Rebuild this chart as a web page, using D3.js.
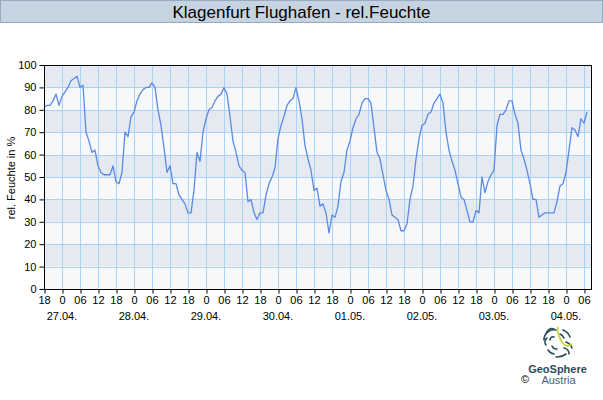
<!DOCTYPE html>
<html><head><meta charset="utf-8">
<script src="https://cdn.jsdelivr.net/npm/d3@7/dist/d3.min.js"></script>
<style>
html,body{margin:0;padding:0;background:#fff;}
svg{display:block;font-family:"Liberation Sans",Arial,sans-serif;}
</style></head>
<body>
<svg id="c" width="603" height="400"></svg>
<script>
const title = "Klagenfurt Flughafen - rel.Feuchte";
const yLabel = "rel. Feuchte in %";
const startTime = "2025-04-26T18:00";   // first hourly reading
const humidity = [
 81,82,82,84,87,82,86,88,90,93,94,95,90,91,70,66,61,62,55,52,
 51,51,51,55,48,47,52,70,68,77,79,84,87,89,90,90,92,90,80,73,
 63,52,55,47,47,42,40,38,34,34,44,61,57,70,76,80,81,84,86,87,
 90,87,77,66,61,55,53,52,39,40,34,31,34,34,42,47,50,54,67,73,
 77,82,84,85,90,84,76,64,58,53,44,45,37,38,34,25,33,32,37,48,
 52,62,66,72,76,78,83,85,85,83,72,61,58,51,44,40,33,32,31,26,
 26,29,40,46,58,67,73,74,78,79,83,85,87,83,70,62,57,53,47,41,
 40,35,30,30,35,34,50,43,48,51,53,73,78,78,80,84,84,78,74,62,
 58,53,47,40,40,32,33,34,34,34,34,39,46,47,52,62,72,71,68,76,
 74,79];
const hourTicks = ["18","0","06","12"];
const dateLabels = ["27.04.","28.04.","29.04.","30.04.","01.05.","02.05.","03.05.","04.05."];
const yTicks = [0,10,20,30,40,50,60,70,80,90,100];

const svg = d3.select("#c");
const L = 44, R = 592, T = 65, B = 289;
const hoursSpan = 182.67;
const t0 = new Date(startTime);
const x = d3.scaleLinear().domain([0, hoursSpan]).range([L, R]);
const y = d3.scaleLinear().domain([0, 100]).range([B, T]);

// title bar
svg.append("rect").attr("x",0.5).attr("y",0.5).attr("width",602).attr("height",22)
  .attr("fill","#c6d3e0").attr("stroke","#95abc2");
svg.append("text").attr("x",301.5).attr("y",18).attr("text-anchor","middle")
  .attr("font-size",17).attr("fill","#000").text(title);

// bands
for (let i = 0; i < 10; i++) {
  svg.append("rect").attr("x",L).attr("width",R-L)
    .attr("y",y(i*10+10)).attr("height",y(i*10)-y(i*10+10))
    .attr("fill", i%2===1 ? "#e5eaf2" : "#f7f8fa");
}
// grid
const g = svg.append("g");
const vt = d3.range(0, 181, 6);
g.selectAll(".vg").data(vt.slice(1)).join("line")
  .attr("x1",d=>Math.round(x(d))+0.5).attr("x2",d=>Math.round(x(d))+0.5)
  .attr("y1",T).attr("y2",B).attr("stroke","#aad2f2").attr("stroke-width",1);
g.selectAll(".hg").data(yTicks.slice(1,-1)).join("line")
  .attr("x1",L).attr("x2",R)
  .attr("y1",d=>Math.round(y(d))+0.5).attr("y2",d=>Math.round(y(d))+0.5)
  .attr("stroke","#aad2f2").attr("stroke-width",1);

// line
const line = d3.line().x((d,i)=>x(i)).y(d=>y(d));
svg.append("path").datum(humidity).attr("d",line).attr("fill","none")
  .attr("stroke","#5a8ae6").attr("stroke-width",1.3).attr("stroke-linejoin","round");

// frame
svg.append("rect").attr("x",L+0.5).attr("y",T+0.5).attr("width",R-L-1).attr("height",B-T)
  .attr("fill","none").attr("stroke","#000");

// y axis
const ya = svg.append("g").attr("transform",`translate(${L+0.5},0)`)
  .call(d3.axisLeft(y).tickValues(yTicks).tickSize(5).tickPadding(3).tickFormat(d3.format("d")));
ya.select(".domain").remove();
ya.selectAll("text").attr("font-size",11).attr("font-family","Liberation Sans, Arial").attr("fill","#000");
ya.selectAll("line").attr("stroke","#000");

// x axis
const xa = svg.append("g").attr("transform",`translate(0,${B+0.5})`)
  .call(d3.axisBottom(x).tickValues(vt).tickSize(4).tickPadding(3)
    .tickFormat((d,i)=>hourTicks[i%4]));
xa.select(".domain").remove();
xa.selectAll("line").attr("stroke","#000").attr("transform","translate(0.5,0)");
xa.selectAll("text").attr("font-size",11).attr("font-family","Liberation Sans, Arial").attr("fill","#000");

svg.append("g").selectAll("text").data(dateLabels).join("text")
  .attr("x",(d,i)=>x(6+24*i)).attr("y",320).attr("text-anchor","middle")
  .attr("font-size",11).text(d=>d);

// y label
svg.append("text").attr("transform","translate(15,178) rotate(-90)")
  .attr("text-anchor","middle").attr("font-size",11).text(yLabel);

// logo
const lg = svg.append("g").attr("fill","none").attr("stroke","#2e4b5b").attr("stroke-width",1.6).attr("stroke-linecap","round");
const arcs = [
 "M546,334 a6,6 0 0 1 8,-5","M544,340 a10,10 0 0 1 12,-10","M546,345 a5,5 0 0 1 1,-7",
 "M550,340 a3,3 0 0 1 4,-3","M548,350 a9,9 0 0 0 6,4","M552,346 a5,5 0 0 0 5,3",
 "M556,357 a14,14 0 0 0 10,-3","M564,348 a6,6 0 0 1 5,6","M566,342 a10,10 0 0 1 6,6",
 "M563,330 a12,12 0 0 1 7,7","M560,334 a8,8 0 0 1 4,4"
];
lg.selectAll("path").data(arcs).join("path").attr("d",d=>d);
svg.append("path").attr("d","M558,327 C556,334 560,338 562,342 C564,346 568,347 572,344")
  .attr("fill","none").attr("stroke","#c5d42a").attr("stroke-width",1.6);
svg.append("text").attr("x",557.5).attr("y",373).attr("text-anchor","middle")
  .attr("font-size",11).attr("font-weight","bold").attr("fill","#2e4b5b").text("GeoSphere");
svg.append("text").attr("x",558.5).attr("y",384).attr("text-anchor","middle")
  .attr("font-size",11).attr("fill","#3d6578").text("Austria");
svg.append("text").attr("x",521).attr("y",383)
  .attr("font-size",11).attr("fill","#000").text("©");
</script>
</body></html>
